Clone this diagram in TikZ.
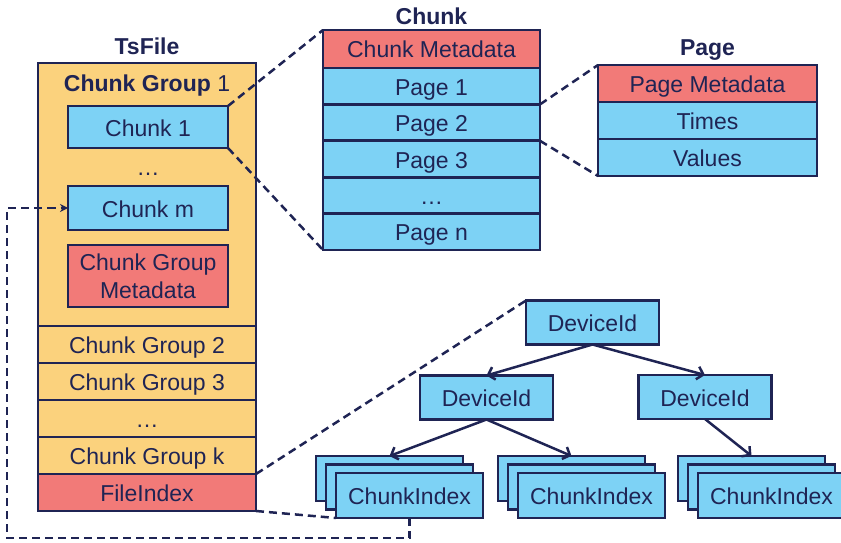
\documentclass[tikz,border=0pt]{standalone}
\usepackage{fontspec}
\setmainfont{Liberation Sans}
\usetikzlibrary{arrows.meta,positioning,shadows}

\definecolor{navy}{RGB}{31,36,84}
\definecolor{cellblue}{RGB}{125,210,245}
\definecolor{cellred}{RGB}{242,122,120}
\definecolor{cellgold}{RGB}{251,210,125}

\begin{document}
\begin{tikzpicture}[
  x=1pt,y=-1pt,
  font=\fontsize{23}{28}\selectfont,text=navy,
  box/.style={draw=navy,line width=2.8pt,outer sep=0pt,inner sep=0pt,align=center,
    text height=18pt,text depth=0pt},
  gbox/.style={box,fill=cellgold,minimum width=218pt,minimum height=37pt},
  inbox/.style={box,fill=cellblue,minimum width=160pt},
  cbox/.style={box,fill=cellblue,minimum width=217pt,minimum height=36.4pt},
  pbox/.style={box,fill=cellblue,minimum width=219pt,minimum height=37pt},
  devbox/.style={box,fill=cellblue,minimum width=133pt,minimum height=44pt},
  idxbox/.style={box,fill=cellblue,minimum width=147pt,minimum height=45pt,
    copy shadow={shadow xshift=-20pt,shadow yshift=17pt,fill=cellblue,draw=navy,line width=2.8pt},
    copy shadow={shadow xshift=-10pt,shadow yshift=8.5pt,fill=cellblue,draw=navy,line width=2.8pt}},
  title/.style={font=\fontsize{23}{28}\selectfont\bfseries,inner sep=0pt,text depth=0pt},
  link/.style={draw=navy,line width=2.5pt,dash pattern=on 8pt off 5pt},
  tree/.style={draw=navy,line width=2.5pt,-{Straight Barb[length=6pt,width=13pt]}}
]
\useasboundingbox (0,0) rectangle (841,543);

% TsFile: first chunk group opened up, the rest as rows
\node[gbox,minimum height=263pt] (cg1) at (147,194.5) {};
\node[anchor=base] (cg1t) at (147,92) {\textbf{Chunk Group} 1};
\node[inbox,minimum height=42pt] (chunk1) at (148,127) {Chunk 1};
\node[anchor=base] (cgdots1) at (148,175) {…};
\node[inbox,minimum height=44pt] (chunkm) at (148,208) {Chunk m};
\node[inbox,fill=cellred,minimum height=62pt,text height={},text depth={}] (cgmeta) at (148,276) {Chunk Group\\Metadata};
\node[gbox,below=0pt of cg1] (cg2) {Chunk Group 2};
\node[gbox,below=0pt of cg2] (cg3) {Chunk Group 3};
\node[gbox,below=0pt of cg3] (cgdots) {…};
\node[gbox,below=0pt of cgdots] (cgk) {Chunk Group k};
\node[gbox,fill=cellred,below=0pt of cgk] (fidx) {FileIndex};
\node[title,above=8pt of cg1.north] (tsfile) {TsFile};

% chunk layout
\node[cbox,fill=cellred,minimum height=38pt] (cmeta) at (431.5,49) {Chunk Metadata};
\node[cbox,below=0pt of cmeta] (page1) {Page 1};
\node[cbox,below=0pt of page1] (page2) {Page 2};
\node[cbox,below=0pt of page2] (page3) {Page 3};
\node[cbox,below=0pt of page3] (pdots) {…};
\node[cbox,below=0pt of pdots] (pagen) {Page n};
\node[title,above=5pt of cmeta.north] (chunk) {Chunk};

% page layout
\node[pbox,fill=cellred] (pmeta) at (707.5,83.5) {Page Metadata};
\node[pbox,below=0pt of pmeta] (times) {Times};
\node[pbox,below=0pt of times] (values) {Values};
\node[title,above=9pt of pmeta.north] (page) {Page};

% file index tree
\node[devbox] (root) at (592.5,322.5) {DeviceId};
\node[devbox] (dev1) at (486.5,397.5) {DeviceId};
\node[devbox] (dev2) at (705,397) {DeviceId};
\node[idxbox] (idx1) at (409.5,495.5) {ChunkIndex};
\node[idxbox] (idx2) at (591.5,495.5) {ChunkIndex};
\node[idxbox] (idx3) at (771.5,495.5) {ChunkIndex};

\draw[tree] (root.south) -- (dev1.north);
\draw[tree] (root.south) -- (dev2.north);
\draw[tree] (dev1.south) -- ([xshift=-20pt,yshift=17pt]idx1.north);
\draw[tree] (dev1.south) -- ([xshift=-20pt,yshift=17pt]idx2.north);
\draw[tree] (dev2.south) -- ([xshift=-20pt,yshift=17pt]idx3.north);

% zoom-in guides
\draw[link] (chunk1.north east) -- (cmeta.north west);
\draw[link] (chunk1.south east) -- (pagen.south west);
\draw[link] (page2.north east) -- (pmeta.north west);
\draw[link] (page2.south east) -- (values.south west);
\draw[link] (cgk.south east) -- (root.north west);
\draw[link] (fidx.south east) -- (idx1.south west);

% index points back to a chunk
\coordinate (back) at (7,538);
\draw[link,-{Stealth[length=8pt,width=8pt]}] (idx1.south) |- (back) |- (chunkm.west);
\end{tikzpicture}
\end{document}
